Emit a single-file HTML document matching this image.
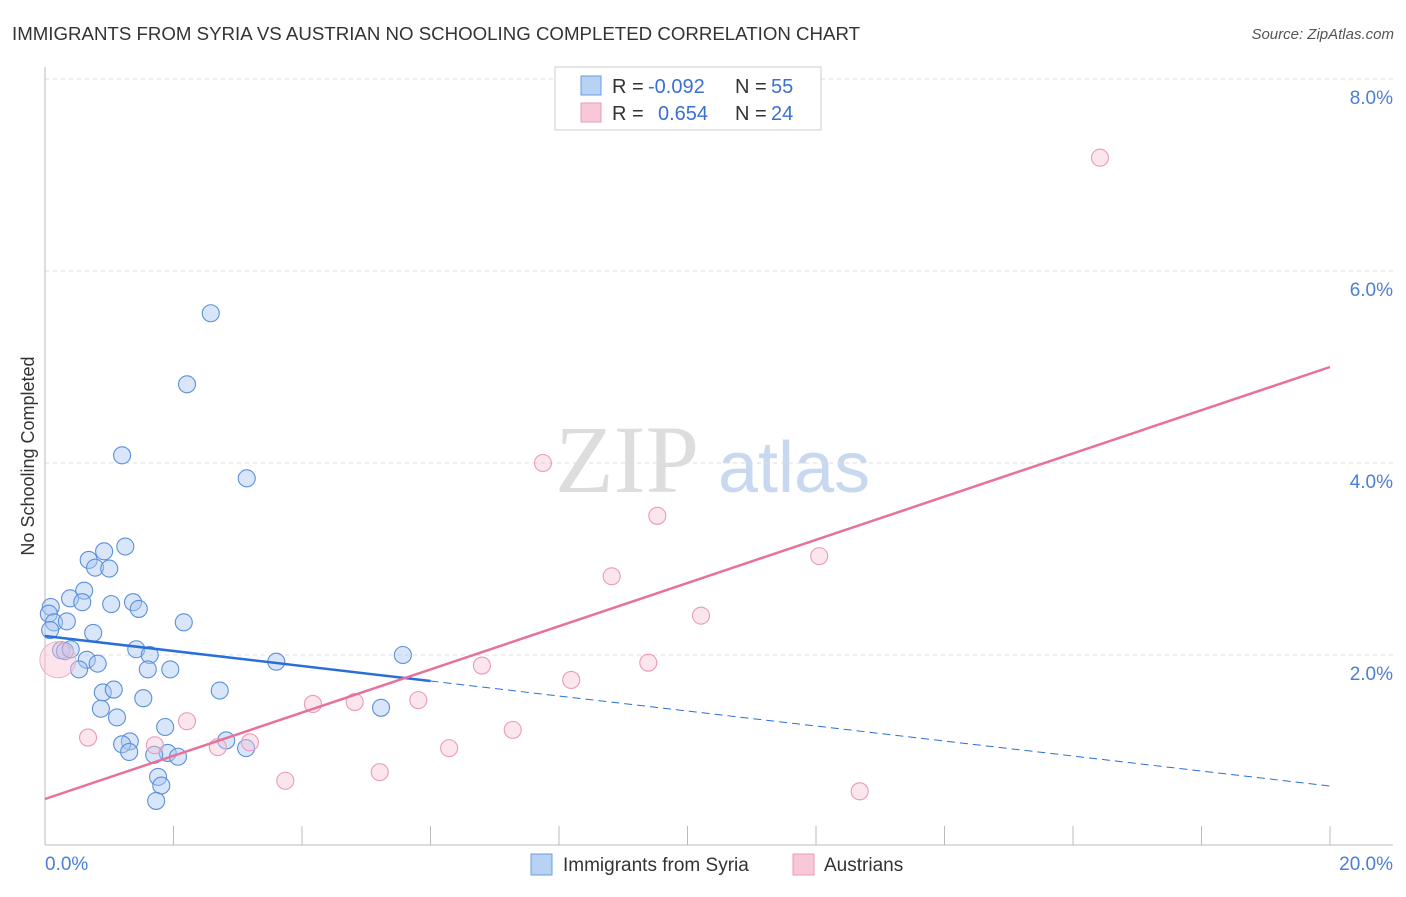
<!DOCTYPE html>
<html><head><meta charset="utf-8"><style>
body{margin:0;background:#fff;font-family:"Liberation Sans",sans-serif}
svg text{font-family:"Liberation Sans",sans-serif}
</style></head><body>
<svg id="c" width="1406" height="892">
<text x="12" y="40" font-size="18" fill="#333" textLength="848" lengthAdjust="spacingAndGlyphs">IMMIGRANTS FROM SYRIA VS AUSTRIAN NO SCHOOLING COMPLETED CORRELATION CHART</text>
<text x="1394" y="39" font-size="15" fill="#555" font-style="italic" text-anchor="end">Source: ZipAtlas.com</text>
<text x="34" y="456" font-size="18" fill="#333" text-anchor="middle" transform="rotate(-90 34 456)">No Schooling Completed</text>
<text x="555" y="492" font-size="96" fill="#ddd" style="font-family:'Liberation Serif',serif">ZIP</text>
<text x="718" y="492" font-size="72" fill="#c8d8f0">atlas</text>
<g id="grid"></g><g id="axes"></g><g id="pts"></g><g id="lines"></g>
<g>
<rect x="555" y="67" width="266" height="63" fill="#fff" stroke="#ccc"/>
<rect x="581" y="76" width="20" height="19" fill="#b8d2f4" stroke="#6a9ce0"/>
<rect x="581" y="103" width="20" height="19" fill="#f8c8d8" stroke="#eb9ab8"/>
<text x="612" y="93" font-size="20" fill="#333">R =</text>
<text x="648" y="93" font-size="20" fill="#3a70d0">-0.092</text>
<text x="735" y="93" font-size="20" fill="#333">N =</text>
<text x="771" y="93" font-size="20" fill="#3a70d0">55</text>
<text x="612" y="120" font-size="20" fill="#333">R =</text>
<text x="658" y="120" font-size="20" fill="#3a70d0">0.654</text>
<text x="735" y="120" font-size="20" fill="#333">N =</text>
<text x="771" y="120" font-size="20" fill="#3a70d0">24</text>
</g>
<g>
<rect x="531" y="854" width="21" height="21" fill="#b8d2f4" stroke="#6a9ce0"/>
<text x="563" y="871" font-size="19" fill="#333">Immigrants from Syria</text>
<rect x="793" y="854" width="21" height="21" fill="#f8c8d8" stroke="#eb9ab8"/>
<text x="824" y="871" font-size="19" fill="#333">Austrians</text>
</g>
</svg>
<script>
const xTicks=[0,2,4,6,8,10,12,14,16,18,20];
const yTicks=[2,4,6,8];
const yTickLabels=["2.0%","4.0%","6.0%","8.0%"];
const blueX=[2.58,2.21,1.20,3.14,1.25,0.68,0.92,0.78,1.00,0.61,0.39,0.09,0.06,0.58,1.03,1.37,1.46,0.14,0.34,2.16,0.75,0.25,0.31,0.40,1.42,1.63,0.65,0.82,0.53,1.60,1.95,3.60,5.57,0.90,1.07,1.53,2.72,0.87,1.12,5.23,1.87,1.32,1.20,2.82,1.31,1.91,1.70,2.07,3.13,1.76,1.81,1.73,0.08];
const blueY=[5.56,4.82,4.08,3.84,3.13,2.99,3.08,2.91,2.90,2.67,2.59,2.50,2.43,2.55,2.53,2.55,2.48,2.34,2.35,2.34,2.23,2.05,2.04,2.06,2.06,2.00,1.95,1.91,1.85,1.85,1.85,1.93,2.00,1.61,1.64,1.55,1.63,1.44,1.35,1.45,1.25,1.10,1.07,1.11,0.99,0.98,0.96,0.94,1.03,0.73,0.64,0.48,2.26];
const pinkX=[16.42,7.75,9.53,12.05,8.82,10.21,9.39,6.80,8.19,4.17,4.82,5.81,2.21,7.28,0.67,1.71,2.69,3.19,6.29,5.21,3.74,12.68];
const pinkY=[7.18,4.00,3.45,3.03,2.82,2.41,1.92,1.89,1.74,1.49,1.51,1.53,1.31,1.22,1.14,1.06,1.04,1.09,1.03,0.78,0.69,0.58];
const bigPink=[0.20,1.95];
const blueLine=[2.198,0.635], blueSolidEnd=6.0;
const pinkLine=[0.5,5.0];
const NS="http://www.w3.org/2000/svg";
const X=v=>45+v/20*1285, Y=v=>847-v*96;
function mk(p,t,a){const e=document.createElementNS(NS,t);for(const k in a)e.setAttribute(k,a[k]);document.getElementById(p).appendChild(e);return e;}
yTicks.forEach((t,i)=>{const g=mk('grid','line',{x1:45,x2:1393,y1:Y(t),y2:Y(t),stroke:'#ddd','stroke-dasharray':'4,4'});


const l=mk('grid','text',{x:1393,y:Y(t)+25,'font-size':19,fill:'#4a7fd6','text-anchor':'end'});l.textContent=yTickLabels[i];

});
const ax=mk('axes','line',{x1:45,x2:45,y1:67,y2:845,stroke:'#bbb'});


const bx=mk('axes','line',{x1:45,x2:1393,y1:845,y2:845,stroke:'#bbb'});


xTicks.forEach(t=>{const e=mk('axes','line',{x1:X(t),x2:X(t),y1:826,y2:845,stroke:'#bbb'});

});
[[0,'0.0%','start',45],[20,'20.0%','end',1393]].forEach(d=>{const e=mk('axes','text',{x:d[3],y:870,'font-size':19,fill:'#4a7fd6','text-anchor':d[2]});e.textContent=d[1];

});
blueX.forEach((v,i)=>{const c=mk('pts','circle',{cx:X(v),cy:Y(blueY[i]),r:8.5,fill:'rgba(170,200,242,0.45)',stroke:'#5b90da','stroke-width':1.1});

});
pinkX.forEach((v,i)=>{const c=mk('pts','circle',{cx:X(v),cy:Y(pinkY[i]),r:8.5,fill:'rgba(248,192,212,0.4)',stroke:'#eb9ab8','stroke-width':1.1});

});
const bp=mk('pts','circle',{cx:X(bigPink[0]),cy:Y(bigPink[1]),r:18,fill:'rgba(248,192,212,0.45)',stroke:'#f0b0c8'});


const bf=x=>blueLine[0]+(blueLine[1]-blueLine[0])*x/20;
const l1=mk('lines','line',{x1:X(0),y1:Y(bf(0)),x2:X(blueSolidEnd),y2:Y(bf(blueSolidEnd)),stroke:'#2a6fd6','stroke-width':2.5});


const l2=mk('lines','line',{x1:X(blueSolidEnd),y1:Y(bf(blueSolidEnd)),x2:X(20),y2:Y(bf(20)),stroke:'#2a6fd6','stroke-width':1,'stroke-dasharray':'8,5'});


const l3=mk('lines','line',{x1:X(0),y1:Y(pinkLine[0]),x2:X(20),y2:Y(pinkLine[1]),stroke:'#e8709a','stroke-width':2.5});


</script>
</body></html>
